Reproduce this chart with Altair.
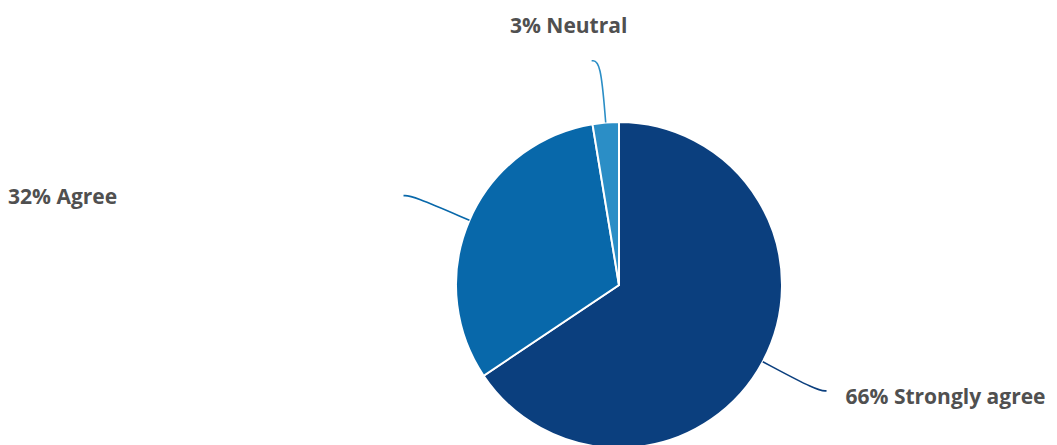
import math
import altair as alt
import pandas as pd

# ---- data ----
categories = ["Strongly agree", "Agree", "Neutral"]
shares = [65.6, 31.8, 2.6]
colors = ["#0b3f7e", "#0868aa", "#2b8ec6"]

# ---- layout (pixels) ----
W, H = 1057, 445
CX, CY = 619, 285          # pie centre measured from the top-left
R = 163                    # pie radius
R_OUT = 225                # leader line elbow radius

total = sum(shares)
rows, line_rows, label_rows = [], [], []
cum = 0.0
for i, (c, s) in enumerate(zip(categories, shares)):
    mid = (cum + s / 2) / total * 2 * math.pi
    cum += s
    sx, cy_ = math.sin(mid), math.cos(mid)
    side = 1 if sx >= 0 else -1
    p0 = (R * sx, R * cy_)
    p1 = (R_OUT * sx, R_OUT * cy_)
    p2 = (p1[0] + side * 9, p1[1])
    rows.append({"cat": c, "share": s, "order": i, "cx": 0, "cy": 0,
                 "label": f"{round(s)}% {c}"})
    for j, (px, py) in enumerate([p0, p1, p2]):
        line_rows.append({"cat": c, "pt": j, "x": px, "y": py})
    if abs(sx) < 0.3:           # label placed above the line
        lx, ly, al = p2[0] - 23, p2[1] + 34, "center"
    elif side > 0:              # label to the right of the line end
        lx, ly, al = p2[0] + 19, p2[1] - 7, "left"
    else:                       # label aligned to the left edge
        lx, ly, al = -CX + 8, p2[1] - 2, "left"
    label_rows.append({"cat": c, "x": lx, "y": ly, "align": al,
                       "label": f"{round(s)}% {c}"})

pie_df = pd.DataFrame(rows)
line_df = pd.DataFrame(line_rows)
label_df = pd.DataFrame(label_rows)

xs = alt.Scale(domain=[-CX, W - CX], nice=False, zero=False)
ys = alt.Scale(domain=[-(H - CY), CY], nice=False, zero=False)
cs = alt.Scale(domain=categories, range=colors)

pie = alt.Chart(pie_df).mark_arc(outerRadius=R, stroke="white", strokeWidth=2).encode(
    x=alt.X("cx:Q", scale=xs, axis=None),
    y=alt.Y("cy:Q", scale=ys, axis=None),
    theta=alt.Theta("share:Q", stack=True),
    order=alt.Order("order:Q"),
    color=alt.Color("cat:N", scale=cs, legend=None),
)

lines = alt.Chart(line_df).mark_line(interpolate="basis", strokeWidth=1.6).encode(
    x=alt.X("x:Q", scale=xs, axis=None),
    y=alt.Y("y:Q", scale=ys, axis=None),
    order=alt.Order("pt:Q"),
    detail="cat:N",
    color=alt.Color("cat:N", scale=cs, legend=None),
)

def label_layer(align):
    return alt.Chart(label_df[label_df["align"] == align]).mark_text(
        align=align, baseline="middle", font="Open Sans", fontSize=21,
        fontWeight="bold", color="#505050",
    ).encode(
        x=alt.X("x:Q", scale=xs, axis=None),
        y=alt.Y("y:Q", scale=ys, axis=None),
        text="label:N",
    )

chart = alt.layer(pie, lines, label_layer("left"), label_layer("center")).properties(
    width=W, height=H, padding=0,
    autosize=alt.AutoSizeParams(type="none"),
).configure_view(stroke=None)

chart.save("out.html", embed_options={"renderer": "svg", "actions": False})
